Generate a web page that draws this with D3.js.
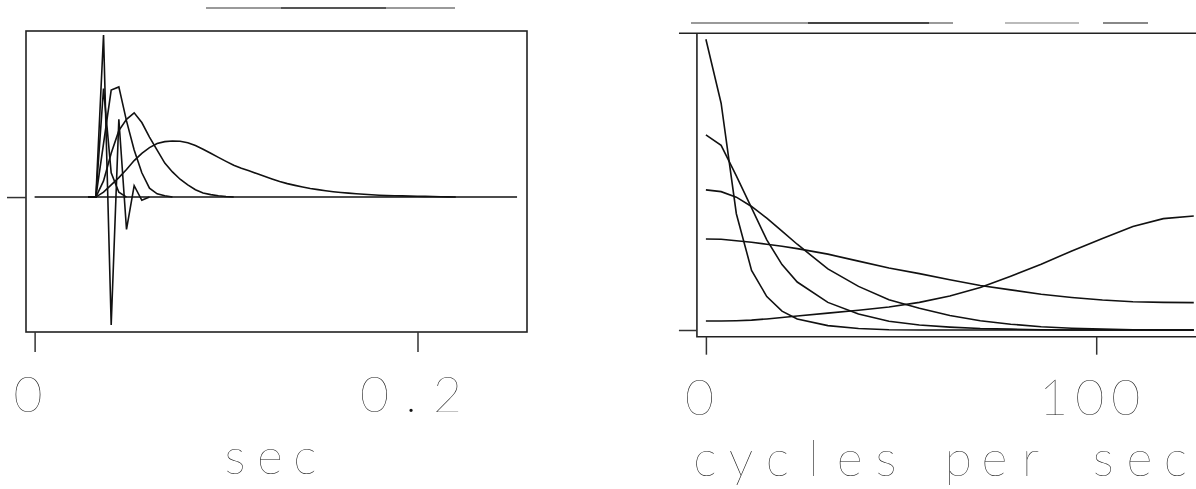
<!DOCTYPE html>
<html>
<head>
<meta charset="utf-8">
<script src="https://cdn.jsdelivr.net/npm/d3@7"></script>
<style>
  body { margin: 0; background: #fff; }
  .lbl { font-family: Lato, "DejaVu Sans", sans-serif; font-weight: 200; fill: #111; }
</style>
</head>
<body>
<div id="chart"></div>
<script>
// wavelets, sampled every 4 ms starting at 28 ms (seconds)
const waveStart = 0.028;
const waveStep = 0.004;
const waveA = [0, 0, 1.0, -0.79, 0.48, -0.2, 0.07, -0.02, 0];
const waveB = [0, 0, 0.67, 0.15, 0.03, 0];
const waveC = [0, 0, 0.33, 0.66, 0.68, 0.47, 0.29, 0.15, 0.055, 0.02, 0.008, 0];
const waveD = [0, 0, 0.1, 0.27, 0.41, 0.48, 0.52, 0.46, 0.37, 0.29, 0.21, 0.155, 0.11, 0.075, 0.045, 0.025, 0.015, 0.008, 0.003, 0];
const waveE = [0, 0, 0.03, 0.075, 0.12, 0.17, 0.225, 0.27, 0.305, 0.33, 0.342, 0.346, 0.344, 0.335, 0.318, 0.295, 0.27, 0.245,
  0.22, 0.196, 0.178, 0.162, 0.145, 0.128, 0.112, 0.096, 0.083, 0.072, 0.062, 0.053, 0.046, 0.039, 0.033, 0.028, 0.024,
  0.02, 0.017, 0.014, 0.011, 0.009, 0.008, 0.007, 0.006, 0.005, 0.004, 0.003, 0.002, 0.001, 0];
const recordEnd = 0.252;

// amplitude spectra
const freqHz = [0, 3.9, 7.8, 11.7, 15.6, 19.5, 23.4, 31.25, 39.1, 46.9, 54.7, 62.5, 70.3, 78.1, 85.9, 93.75, 101.6, 109.4, 117.2, 125];
const specE = [1.0, 0.78, 0.40, 0.205, 0.115, 0.065, 0.038, 0.015, 0.005, 0.001, 0, 0, 0, 0, 0, 0, 0, 0, 0, 0];
const specD = [0.671, 0.635, 0.53, 0.42, 0.31, 0.225, 0.165, 0.095, 0.055, 0.03, 0.017, 0.01, 0.005, 0.003, 0.001, 0, 0, 0, 0, 0];
const specC = [0.482, 0.476, 0.457, 0.425, 0.385, 0.34, 0.295, 0.21, 0.15, 0.104, 0.075, 0.05, 0.032, 0.02, 0.011, 0.006, 0.003, 0.001, 0, 0];
const specB = [0.313, 0.312, 0.307, 0.302, 0.295, 0.288, 0.28, 0.261, 0.237, 0.213, 0.194, 0.173, 0.153, 0.138, 0.123, 0.112, 0.103, 0.097, 0.095, 0.094];
const specA = [0.031, 0.031, 0.032, 0.034, 0.038, 0.043, 0.048, 0.058, 0.068, 0.079, 0.095, 0.117, 0.146, 0.185, 0.226, 0.272, 0.315, 0.356, 0.383, 0.392];

const timeTicks = [0, 0.2];
const timeTickLabels = ["0", "0.2"];
const freqTicks = [0, 100];
const freqTickLabels = ["0", "100"];

const width = 1196;
const height = 489;

const svg = d3.select("#chart").append("svg")
  .attr("width", width)
  .attr("height", height)
  .style("display", "block");

// ---------- left panel: time ----------
const xL = d3.scaleLinear().domain([-0.0045, 0.2572]).range([26, 527]);
const yL = d3.scaleLinear().domain([-0.833, 1.025]).range([332, 31]);

const left = svg.append("g");

// faded title
left.append("line").attr("x1", 206).attr("x2", 455).attr("y1", 8).attr("y2", 8)
  .attr("stroke", "#9a9a9a").attr("stroke-width", 2);
left.append("line").attr("x1", 281).attr("x2", 386).attr("y1", 8).attr("y2", 8)
  .attr("stroke", "#555").attr("stroke-width", 2);

left.append("rect")
  .attr("x", xL.range()[0]).attr("y", yL.range()[1])
  .attr("width", xL.range()[1] - xL.range()[0])
  .attr("height", yL.range()[0] - yL.range()[1])
  .attr("fill", "none").attr("stroke", "#222").attr("stroke-width", 1.6);

const waveLine = d3.line()
  .x((d, i) => xL(waveStart + i * waveStep))
  .y(d => yL(d));

// zero line for the whole record
left.append("path")
  .attr("d", d3.line()([[xL(0), yL(0)], [xL(recordEnd), yL(0)]]))
  .attr("stroke", "#111").attr("stroke-width", 1.6);

[waveE, waveD, waveC, waveB, waveA].forEach(w => {
  left.append("path")
    .attr("d", waveLine(w))
    .attr("fill", "none")
    .attr("stroke", "#111")
    .attr("stroke-width", 1.6)
    .attr("stroke-linejoin", "miter");
});

left.append("g")
  .attr("transform", `translate(0,${yL.range()[0]})`)
  .call(d3.axisBottom(xL).tickValues(timeTicks).tickSize(20).tickFormat(""))
  .call(g => g.select(".domain").remove())
  .call(g => g.selectAll("line").attr("stroke", "#333").attr("stroke-width", 1.5));

left.append("g")
  .attr("transform", `translate(${xL.range()[0]},0)`)
  .call(d3.axisLeft(yL).tickValues([0]).tickSize(19).tickFormat(""))
  .call(g => g.select(".domain").remove())
  .call(g => g.selectAll("line").attr("stroke", "#333").attr("stroke-width", 1.5));

// monospaced labels: each character centred in its own cell
function monoText(g, str, cx, baseline, pitch, size) {
  const n = str.length;
  const xs = d3.range(n).map(i => (cx + (i - (n - 1) / 2) * pitch).toFixed(1));
  g.append("text")
    .attr("class", "lbl")
    .attr("x", xs.join(" "))
    .attr("y", baseline)
    .attr("text-anchor", "middle")
    .attr("font-size", size)
    .text(str);
}

timeTicks.forEach((v, i) => monoText(left, timeTickLabels[i], xL(v) - 6.5, 412, 36.5, 50));
monoText(left, "sec", 270, 474, 35, 50);

// ---------- right panel: frequency ----------
const xR = d3.scaleLinear().domain([0, 100]).range([705.9, 1096.2]);
const yR = d3.scaleLinear().domain([0, 1]).range([330, 39.3]);

const right = svg.append("g");

// faded title
right.append("line").attr("x1", 691).attr("x2", 953).attr("y1", 23).attr("y2", 23)
  .attr("stroke", "#9a9a9a").attr("stroke-width", 2);
right.append("line").attr("x1", 808).attr("x2", 929).attr("y1", 23).attr("y2", 23)
  .attr("stroke", "#444").attr("stroke-width", 2);
right.append("line").attr("x1", 1005).attr("x2", 1079).attr("y1", 23).attr("y2", 23)
  .attr("stroke", "#bbb").attr("stroke-width", 2);
right.append("line").attr("x1", 1103).attr("x2", 1148).attr("y1", 23).attr("y2", 23)
  .attr("stroke", "#888").attr("stroke-width", 2);

const boxL = xR(-2.3);
const boxTop = yR(1.0206);
const boxBottom = yR(-0.023);

right.append("path")
  .attr("d", `M${xR(-6.9)},${boxTop}H${width}`)
  .attr("stroke", "#222").attr("stroke-width", 1.6);
right.append("path")
  .attr("d", `M${boxL},${boxTop}V${boxBottom}H${width}`)
  .attr("fill", "none").attr("stroke", "#222").attr("stroke-width", 1.6);

const specLine = d3.line()
  .x((d, i) => xR(freqHz[i]))
  .y(d => yR(d));

[specE, specD, specC, specB, specA].forEach(s => {
  right.append("path")
    .attr("d", specLine(s))
    .attr("fill", "none")
    .attr("stroke", "#111")
    .attr("stroke-width", 1.6);
});

right.append("g")
  .attr("transform", `translate(0,${boxBottom})`)
  .call(d3.axisBottom(xR).tickValues(freqTicks).tickSize(18).tickFormat(""))
  .call(g => g.select(".domain").remove())
  .call(g => g.selectAll("line").attr("stroke", "#333").attr("stroke-width", 1.5));

right.append("g")
  .attr("transform", `translate(${boxL},0)`)
  .call(d3.axisLeft(yR).tickValues([0]).tickSize(18).tickFormat(""))
  .call(g => g.select(".domain").remove())
  .call(g => g.selectAll("line").attr("stroke", "#333").attr("stroke-width", 1.5));

freqTicks.forEach((v, i) => monoText(right, freqTickLabels[i], xR(v) - 6.5, 415, 36, 50));
monoText(right, "cycles per sec", xR(0) - 1 + 6.5 * 36.2, 476, 36.2, 50);
</script>
</body>
</html>
